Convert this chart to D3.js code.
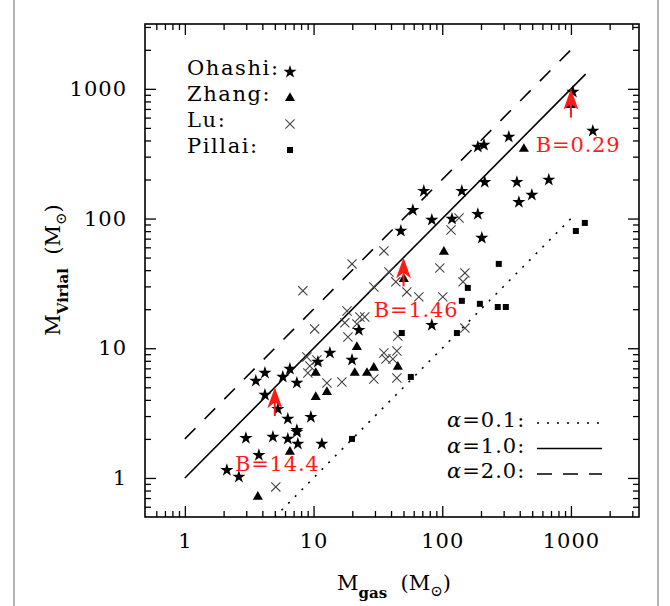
<!DOCTYPE html>
<html>
<head>
<meta charset="utf-8">
<script src="https://cdn.jsdelivr.net/npm/d3@7"></script>
<style>
  body { margin: 0; background: #fff; }
  svg text { font-family: "DejaVu Serif", "Liberation Serif", serif; }
</style>
</head>
<body>
<svg id="chart" width="670" height="606"></svg>
<script>
// ---- Data: gas mass vs virial mass (solar masses) per survey ----
const ohashiGas = [2.12, 2.63, 2.98, 3.76, 4.83, 6.31, 7.42, 7.55, 11.6, 4.19, 5.28, 6.31, 9.53, 7.42,
  3.56, 4.19, 5.77, 6.55, 7.42, 10.8, 13.4, 19.9, 22.5, 83.0, 47.7, 59.1, 71.9, 83.0, 119, 142,
  189, 203, 189, 211, 214, 329, 380, 394, 497, 673, 1035, 1479];
const ohashiVir = [1.15, 1.02, 2.03, 1.50, 2.07, 2.0, 2.26, 1.83, 1.83, 4.36, 3.40, 2.85, 2.95, 2.34,
  5.60, 6.45, 6.01, 6.92, 5.40, 7.84, 9.20, 8.13, 13.8, 15.1, 80.2, 116, 163, 97.5, 99.3, 163,
  108, 70.8, 357, 369, 191, 426, 191, 134, 152, 199, 946, 474];

const zhangGas = [3.69, 6.55, 10.4, 12.7, 10.4, 21.7, 20.9, 26.0, 29.4, 45.2, 50.3, 103, 431, 998];
const zhangVir = [0.714, 1.59, 6.45, 4.60, 4.21, 10.2, 6.45, 6.45, 7.05, 7.18, 34.2, 55.3, 344, 751];

const luGas = [5.09, 8.26, 19.9, 35.2, 10.2, 18.2, 17.5, 18.5, 22.9, 25.0, 21.7, 38.5, 43.6, 29.4,
  53.1, 65.8, 95.8, 150, 145, 101, 117, 135, 150, 45.2, 35.2, 44.4, 36.5, 41.3, 44.4, 29.4,
  16.6, 12.7, 8.87, 9.36, 9.03, 10.6];
const luVir = [0.853, 27.7, 44.7, 56.3, 14.1, 19.4, 15.7, 12.2, 17.4, 17.4, 15.4, 38.7, 32.5, 29.7,
  27.2, 24.9, 41.6, 38.1, 32.5, 24.9, 81.7, 101, 14.3, 12.4, 9.20, 9.53, 8.27, 8.27, 5.90, 5.80,
  5.50, 5.40, 8.57, 7.30, 6.45, 8.13];

const pillaiGas = [19.9, 48.5, 57.0, 130, 142, 158, 196, 270, 312, 275, 1092, 1282];
const pillaiVir = [2.0, 13.1, 6.01, 13.1, 23.2, 29.2, 22.0, 20.8, 20.8, 44.7, 80.2, 92.5];

const surveyNames = ["Ohashi:", "Zhang:", "Lu:", "Pillai:"];

// Virial parameter reference lines  M_vir = alpha * M_gas
const alphaValues = [0.1, 1.0, 2.0];
const alphaLabels = ["0.1", "1.0", "2.0"];
const alphaGasStart = [5, 1, 1];
const alphaGasEnd = [1000, 1300, 1000];

// Magnetic field annotations: arrow from low to high virial mass at a given gas mass
const fieldLabels = ["B=14.4", "B=1.46", "B=0.29"];
const fieldGas = [5, 50, 1000];
const fieldVirLow = [3, 30, 600];
const fieldVirHigh = [5, 50, 1000];
const fieldLabelGas = [2.45, 29.4, 534];
const fieldLabelVir = [1.13, 17.4, 326];

// Axis ticks
const majorTicks = [1, 10, 100, 1000];
const majorTickLabels = ["1", "10", "100", "1000"];
const minorTicks = [0.6, 0.7, 0.8, 0.9, 2, 3, 4, 5, 6, 7, 8, 9, 20, 30, 40, 50, 60, 70, 80, 90,
  200, 300, 400, 500, 600, 700, 800, 900, 2000, 3000];

// ---- Layout ----
const L = 145, R = 639, T = 24, B = 517;
const svg = d3.select("#chart");
svg.append("rect").attr("width", 670).attr("height", 606).attr("fill", "#fff");

// figure side borders
[14, 658].forEach(bx => {
  svg.append("line").attr("x1", bx).attr("x2", bx).attr("y1", 0).attr("y2", 606)
    .attr("stroke", "#9a9a9a").attr("stroke-width", 1.5);
});

const x = d3.scaleLog().domain([0.49, 3380]).range([L, R]);
const y = d3.scaleLog().domain([0.5, 3162]).range([B, T]);

const fmt = d => majorTickLabels[majorTicks.indexOf(d)];
const tickStyle = g => {
  g.select(".domain").remove();
  g.selectAll(".tick line").attr("stroke", "#000").attr("stroke-width", 1.3);
  g.selectAll(".tick text").attr("fill", "#000").attr("font-size", 21)
    .attr("font-family", "DejaVu Serif").attr("letter-spacing", 1);
};

// bottom
svg.append("g").attr("transform", `translate(0,${B})`)
  .call(d3.axisBottom(x).tickValues(majorTicks).tickFormat(fmt).tickSize(-11).tickPadding(16)).call(tickStyle);
svg.append("g").attr("transform", `translate(0,${B})`)
  .call(d3.axisBottom(x).tickValues(minorTicks).tickFormat("").tickSize(-6)).call(tickStyle);
// top
svg.append("g").attr("transform", `translate(0,${T})`)
  .call(d3.axisTop(x).tickValues(majorTicks).tickFormat("").tickSize(-11)).call(tickStyle);
svg.append("g").attr("transform", `translate(0,${T})`)
  .call(d3.axisTop(x).tickValues(minorTicks).tickFormat("").tickSize(-6)).call(tickStyle);
// left
svg.append("g").attr("transform", `translate(${L},0)`)
  .call(d3.axisLeft(y).tickValues(majorTicks).tickFormat(fmt).tickSize(-11).tickPadding(18)).call(tickStyle);
svg.append("g").attr("transform", `translate(${L},0)`)
  .call(d3.axisLeft(y).tickValues(minorTicks).tickFormat("").tickSize(-6)).call(tickStyle);
// right
svg.append("g").attr("transform", `translate(${R},0)`)
  .call(d3.axisRight(y).tickValues(majorTicks).tickFormat("").tickSize(-11)).call(tickStyle);
svg.append("g").attr("transform", `translate(${R},0)`)
  .call(d3.axisRight(y).tickValues(minorTicks).tickFormat("").tickSize(-6)).call(tickStyle);

// frame
svg.append("rect").attr("x", L).attr("y", T).attr("width", R - L).attr("height", B - T)
  .attr("fill", "none").attr("stroke", "#000").attr("stroke-width", 1.6);

svg.append("clipPath").attr("id", "plotclip").append("rect")
  .attr("x", L).attr("y", T).attr("width", R - L).attr("height", B - T);
const plot = svg.append("g").attr("clip-path", "url(#plotclip)");

// ---- reference lines ----
const dashes = ["2,7.5", null, "15,13"];
alphaValues.forEach((a, i) => {
  const pts = [alphaGasStart[i], alphaGasEnd[i]];
  plot.append("path")
    .attr("d", d3.line().x(d => x(d)).y(d => y(a * d))(pts))
    .attr("fill", "none").attr("stroke", "#000").attr("stroke-width", 1.6)
    .attr("stroke-dasharray", dashes[i]);
});

// ---- markers ----
const star = d3.symbol().type(d3.symbolStar).size(54)();
const tri = d3.symbol().type(d3.symbolTriangle).size(44)();

function drawStar(g, px, py) {
  g.append("path").attr("d", star).attr("transform", `translate(${px},${py})`).attr("fill", "#000");
}
function drawTri(g, px, py) {
  g.append("path").attr("d", tri).attr("transform", `translate(${px},${py})`).attr("fill", "#000");
}
function drawCross(g, px, py) {
  const s = 4.6;
  g.append("path").attr("d", `M${px - s},${py - s}L${px + s},${py + s}M${px - s},${py + s}L${px + s},${py - s}`)
    .attr("stroke", "#444").attr("stroke-width", 1.1).attr("fill", "none");
}
function drawSquare(g, px, py) {
  g.append("rect").attr("x", px - 3).attr("y", py - 3).attr("width", 6).attr("height", 6).attr("fill", "#000");
}

luGas.forEach((g, i) => drawCross(plot, x(g), y(luVir[i])));
pillaiGas.forEach((g, i) => drawSquare(plot, x(g), y(pillaiVir[i])));
zhangGas.forEach((g, i) => drawTri(plot, x(g), y(zhangVir[i])));
ohashiGas.forEach((g, i) => drawStar(plot, x(g), y(ohashiVir[i])));

// ---- field annotations ----
const red = "#ff1a1a";
fieldGas.forEach((g, i) => {
  const px = x(g), yLow = y(fieldVirLow[i]), yHigh = y(fieldVirHigh[i]);
  plot.append("line").attr("x1", px).attr("x2", px).attr("y1", yLow).attr("y2", yHigh + 12)
    .attr("stroke", red).attr("stroke-width", 2);
  plot.append("path")
    .attr("d", `M${px},${yHigh} L${px + 7.5},${yHigh + 21} L${px},${yHigh + 15} L${px - 7.5},${yHigh + 21} Z`)
    .attr("fill", red);
  svg.append("text").attr("x", x(fieldLabelGas[i])).attr("y", y(fieldLabelVir[i]))
    .attr("font-size", 21).attr("letter-spacing", 0.8).attr("fill", red).text(fieldLabels[i]);
});

// ---- survey legend ----
const legMarkers = [drawStar, drawTri, drawCross, drawSquare];
surveyNames.forEach((n, i) => {
  const base = 75 + i * 26;
  svg.append("text").attr("x", 187).attr("y", base).attr("font-size", 21)
    .attr("letter-spacing", 1.6).attr("fill", "#000").text(n);
  legMarkers[i](svg, 290, base - 3);
});

// ---- alpha legend ----
const legDash = ["2,8", null, "15,11"];
alphaLabels.forEach((lab, i) => {
  const base = 427 + i * 25.5;
  const t = svg.append("text").attr("x", 447).attr("y", base).attr("font-size", 21)
    .attr("letter-spacing", 1).attr("fill", "#000");
  t.append("tspan").attr("font-style", "italic").text("α");
  t.append("tspan").text("=" + lab + ":");
  svg.append("line").attr("x1", 537).attr("x2", 602).attr("y1", base - 4).attr("y2", base - 4)
    .attr("stroke", "#000").attr("stroke-width", 1.6).attr("stroke-dasharray", legDash[i]);
});

// ---- axis titles ----
const xt = svg.append("text").attr("x", 394).attr("y", 590).attr("text-anchor", "middle")
  .attr("font-size", 21).attr("fill", "#000");
xt.append("tspan").text("M");
xt.append("tspan").attr("dy", 8).attr("font-size", 15).attr("font-weight", "bold").text("gas");
xt.append("tspan").attr("dy", -8).text("\u00a0\u00a0(M");
xt.append("tspan").attr("dy", 6).attr("font-size", 15).text("\u2299");
xt.append("tspan").attr("dy", -6).text(")");

const yt = svg.append("text").attr("transform", "translate(60,270) rotate(-90)")
  .attr("text-anchor", "middle").attr("font-size", 21).attr("fill", "#000");
yt.append("tspan").text("M");
yt.append("tspan").attr("dy", 8).attr("font-size", 15).attr("font-weight", "bold").text("Virial");
yt.append("tspan").attr("dy", -8).text("\u00a0\u00a0(M");
yt.append("tspan").attr("dy", 6).attr("font-size", 15).text("\u2299");
yt.append("tspan").attr("dy", -6).text(")");
</script>
</body>
</html>
